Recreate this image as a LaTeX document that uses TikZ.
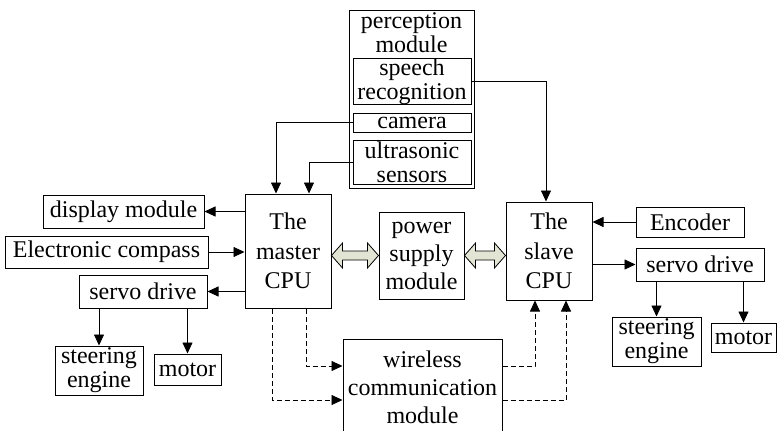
\documentclass[tikz,border=0pt]{standalone}
\usepackage{fontspec}
\setmainfont{Liberation Serif}
\usetikzlibrary{positioning,arrows.meta,calc}
\definecolor{shaft}{RGB}{226,229,212}
\newcommand{\fatarrow}[2]{\draw[fatarr] let \p1=(#1), \p2=(#2) in
  (\x1,\y1) -- (\x1+11pt,\y1+12.5pt) -- (\x1+11pt,\y1+4.5pt) -- (\x2-11pt,\y1+4.5pt) -- (\x2-11pt,\y1+12.5pt)
  -- (\x2,\y1) -- (\x2-11pt,\y1-12.5pt) -- (\x2-11pt,\y1-4.5pt) -- (\x1+11pt,\y1-4.5pt) -- (\x1+11pt,\y1-12.5pt) -- cycle;}

\begin{document}
\begin{tikzpicture}[x=1pt,y=-1pt,font=\fontsize{24}{24}\selectfont,
    blk/.style={draw,line width=1pt,align=center,inner sep=0pt},
    cpu/.style={blk,font=\fontsize{24}{29.5}\selectfont},
    arr/.style={line width=0.8pt,-{Triangle[length=11pt,width=10pt]}},
    dsh/.style={arr,dash pattern=on 5pt off 3pt},
    fatarr/.style={draw,line width=0.8pt,fill=shaft}]
        \useasboundingbox (0,0) rectangle (777,431);
        \node[blk,minimum width=125pt,minimum height=178pt] (perc) at (411.5,99) {};
        \node[align=center,inner sep=0pt] (perctxt) at (411.5,33) {perception\\module};
        \node[blk,minimum width=118pt,minimum height=45pt] (speech) at (412,81.5) {speech\\recognition};
        \node[blk,minimum width=118pt,minimum height=19pt] (camera) at (412,122.5) {camera};
        \node[blk,minimum width=118pt,minimum height=44pt] (ultra) at (412,162) {ultrasonic\\sensors};
        \node[cpu,minimum width=86pt,minimum height=114pt] (master) at (288,251) {The\\master\\CPU};
        \node[cpu,minimum width=86pt,minimum height=98pt] (slave) at (549,251) {The\\slave\\CPU};
        \node[blk,font=\fontsize{24}{28}\selectfont,minimum width=85pt,minimum height=87pt] (power) at (421.5,255.5) {power\\supply\\module};
        \node[blk,font=\fontsize{24}{28}\selectfont,minimum width=159pt,minimum height=97pt] (wireless) at (422.5,387.5) {wireless\\communication\\module};
        \node[blk,minimum width=161pt,minimum height=33pt] (display) at (123.5,211.5) {display module};
        \node[blk,minimum width=203pt,minimum height=32pt] (compass) at (106.5,252) {Electronic compass};
        \node[blk,minimum width=128pt,minimum height=33pt] (servoL) at (143,291.5) {servo drive};
        \node[blk,minimum width=88pt,minimum height=49pt] (steerL) at (99,370.5) {steering\\engine};
        \node[blk,minimum width=67pt,minimum height=31pt] (motorL) at (187.5,369.5) {motor};
        \node[blk,minimum width=108pt,minimum height=30pt] (encoder) at (690,222) {Encoder};
        \node[blk,minimum width=128pt,minimum height=33pt] (servoR) at (700,264.5) {servo drive};
        \node[blk,minimum width=89pt,minimum height=49pt] (steerR) at (656.5,341.5) {steering\\engine};
        \node[blk,minimum width=65pt,minimum height=29pt] (motorR) at (743.5,337.5) {motor};
        \draw[arr] (speech.east) -| ([xshift=-3pt]slave.north);
        \draw[arr] (camera.west) -| ([xshift=-12pt]master.north);
        \draw[arr] (ultra.west) -| ([xshift=21pt]master.north);
        \draw[arr] (master.west |- display.east) -- (display.east);
        \draw[arr] (compass.east) -- (compass.east -| master.west);
        \draw[arr] (master.west |- servoL.east) -- (servoL.east);
        \draw[arr] (servoL.south -| steerL.north) -- (steerL.north);
        \draw[arr] (servoL.south -| motorL.north) -- (motorL.north);
        \fatarrow{master.east |- power.west}{power.west}
        \fatarrow{power.east}{slave.west |- power.east}
        \draw[dsh] ([xshift=-16pt]master.south) |- ([yshift=-12.5pt]wireless.west);
        \draw[dsh] ([xshift=18pt]master.south) |- ([yshift=21.5pt]wireless.west);
        \draw[dsh] ([yshift=21.5pt]wireless.east) -| ([xshift=-14pt]slave.south);
        \draw[dsh] ([yshift=-12.5pt]wireless.east) -| ([xshift=17pt]slave.south);
        \draw[arr] (encoder.west) -- (encoder.west -| slave.east);
        \draw[arr] (slave.east |- servoR.west) -- (servoR.west);
        \draw[arr] (servoR.south -| steerR.north) -- (steerR.north);
        \draw[arr] (servoR.south -| motorR.north) -- (motorR.north);
      \end{tikzpicture}
\end{document}
